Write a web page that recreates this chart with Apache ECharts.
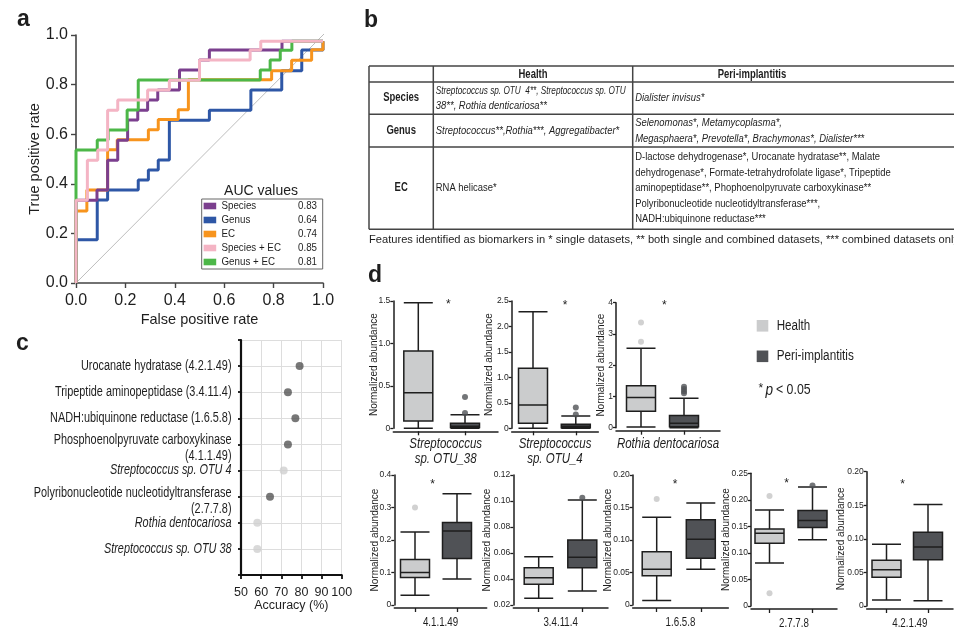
<!DOCTYPE html>
<html><head><meta charset="utf-8">
<script src="https://cdn.jsdelivr.net/npm/echarts@6/dist/echarts.min.js"></script>
<style>html,body{margin:0;padding:0;background:#fff}#c{width:954px;height:628px}</style>
</head><body><div id="c"></div>
<script>
// ================= DATA =================
// Panel a: ROC curves (points after each vertical+horizontal step: [FPR, TPR])
const rocNames = ['Species', 'Genus', 'EC', 'Species + EC', 'Genus + EC'];
const aucValues = ['0.83', '0.64', '0.74', '0.85', '0.81'];
const rocSpecies = [[0,0],[0.085,0.334],[0.128,0.375],[0.169,0.495],[0.209,0.576],[0.25,0.657],[0.29,0.697],[0.331,0.738],[0.419,0.778],[0.5,0.859],[0.54,0.899],[0.834,0.94],[1,0.975]];
const rocGenus = [[0,0],[0.086,0.174],[0.128,0.335],[0.252,0.375],[0.293,0.415],[0.333,0.456],[0.378,0.496],[0.54,0.656],[0.708,0.697],[0.833,0.778],[0.914,0.856],[1,0.94],[1,0.975]];
const rocEC = [[0,0],[0.044,0.29],[0.128,0.375],[0.167,0.537],[0.293,0.578],[0.333,0.618],[0.414,0.659],[0.455,0.699],[0.792,0.82],[0.873,0.856],[0.954,0.898],[1,0.941],[1,0.975]];
const rocSpeciesEC = [[0,0],[0.046,0.334],[0.088,0.495],[0.128,0.536],[0.169,0.697],[0.29,0.738],[0.378,0.778],[0.5,0.818],[0.705,0.899],[0.748,0.94],[1,0.975]];
const rocGenusEC = [[0,0],[0.086,0.536],[0.13,0.577],[0.207,0.617],[0.252,0.698],[0.746,0.819],[0.786,0.859],[0.827,0.899],[0.874,0.939],[1,0.975]];
const rocTicks = [0, 0.2, 0.4, 0.6, 0.8, 1.0];
const refLine = [-0.065, 1.055];

// Panel b: table
const tableCols = ['Health', 'Peri-implantitis'];
const tableRows = ['Species', 'Genus', 'EC'];
const healthCells = [
  ['Streptococcus sp. OTU  4**, Streptococcus sp. OTU', '38**, Rothia denticariosa**'],
  ['Streptococcus**,Rothia***, Aggregatibacter*'],
  ['RNA helicase*']
];
const periCells = [
  ['Dialister invisus*'],
  ['Selenomonas*, Metamycoplasma*,', 'Megasphaera*, Prevotella*, Brachymonas*, Dialister***'],
  ['D-lactose dehydrogenase*, Urocanate hydratase**, Malate',
   'dehydrogenase*, Formate-tetrahydrofolate ligase*, Tripeptide',
   'aminopeptidase**, Phophoenolpyruvate carboxykinase**',
   'Polyribonucleotide nucleotidyltransferase***,',
   'NADH:ubiquinone reductase***']
];
const rowItalic = [true, true, false];
const footnote = 'Features identified as biomarkers in * single datasets, ** both single and combined datasets, *** combined datasets only';

// Panel c: accuracy
const accLabels = ['Urocanate hydratase (4.2.1.49)', 'Tripeptide aminopeptidase (3.4.11.4)', 'NADH:ubiquinone reductase (1.6.5.8)',
  'Phosphoenolpyruvate carboxykinase\n(4.1.1.49)', 'Streptococcus sp. OTU 4', 'Polyribonucleotide nucleotidyltransferase\n(2.7.7.8)',
  'Rothia dentocariosa', 'Streptococcus sp. OTU 38'];
const accValues = [79.1, 73.3, 77.0, 73.3, 71.2, 64.4, 58.1, 58.1];
const accType = ['EC', 'EC', 'EC', 'EC', 'Species', 'EC', 'Species', 'Species'];
const accTicks = [50, 60, 70, 80, 90, 100];

// Panel d: box plots [min, Q1, median, Q3, max]
const dCats = ['Streptococcus\nsp. OTU_38', 'Streptococcus\nsp. OTU_4', 'Rothia dentocariosa', '4.1.1.49', '3.4.11.4', '1.6.5.8', '2.7.7.8', '4.2.1.49'];
const dItalic = [true, true, true, false, false, false, false, false];
const groups = ['Health', 'Peri-implantitis'];
const healthBox = [
  [0, 0.086, 0.42, 0.91, 1.48],
  [0, 0.10, 0.46, 1.18, 2.29],
  [0.02, 0.53, 0.97, 1.34, 2.54],
  [0.03, 0.085, 0.10, 0.14, 0.225],
  [0.0252, 0.0359, 0.041, 0.0487, 0.0572],
  [0.007, 0.045, 0.055, 0.082, 0.135],
  [0.081, 0.118, 0.137, 0.145, 0.181],
  [0.009, 0.043, 0.054, 0.068, 0.092]
];
const periBox = [
  [0, 0.01, 0.025, 0.06, 0.16],
  [0, 0.01, 0.04, 0.08, 0.24],
  [0, 0.03, 0.14, 0.39, 0.94],
  [0.08, 0.143, 0.228, 0.254, 0.342],
  [0.0308, 0.0487, 0.0567, 0.070, 0.1008],
  [0.055, 0.072, 0.101, 0.131, 0.157],
  [0.125, 0.148, 0.161, 0.180, 0.224],
  [0.008, 0.069, 0.088, 0.110, 0.151]
];
const healthOut = [[], [], [2.75, 3.37], [0.30], [], [0.163], [0.024, 0.207], []];
const periOut = [[0.18, 0.37], [0.27, 0.41], [1.10, 1.17, 1.24, 1.31], [], [0.1025], [], [0.227], []];
const dSig = [true, true, true, true, false, true, true, true];
const dYMin = [0, 0, 0, 0, 0.02, 0, 0, 0];
const dYMax = [1.5, 2.5, 4, 0.4, 0.12, 0.20, 0.25, 0.20];
const dYStep = [0.5, 0.5, 1, 0.1, 0.02, 0.05, 0.05, 0.05];
const dYDec = [1, 1, 0, 1, 2, 2, 2, 2];

// ================= STYLE / LAYOUT =================
const SANS = '"Liberation Sans", Arial, Helvetica, sans-serif';
const INK = '#1e1e1e';
const NARROW_X = 0.79;             // horizontal squeeze imitating a condensed face
const rocColors = ['#7b3f8e', '#2e57a6', '#f7941d', '#f4b4c4', '#4cb748'];
const HCOL = '#cbcccd', PCOL = '#505256', HOUT = '#c6c6c6';

// panel d geometry: y-axis x, x-axis right end, box centres, top, zero line, star, y-name gap
const dGeom = [
  {x0: 393.3, x1: 498, c1: 418.3, c2: 465, top: 301, y0: 428.3, star: [448.3, 304.5], ng: 14},
  {x0: 511.7, x1: 598.3, c1: 533, c2: 575.8, top: 301, y0: 428.3, star: [565, 305.5], ng: 17},
  {x0: 616, x1: 720, c1: 641, c2: 684, top: 302.7, y0: 427.7, star: [664.3, 305.5], ng: 9.5},
  {x0: 394.3, x1: 486.7, c1: 415, c2: 457, top: 475, y0: 605, star: [432.7, 485], ng: 14},
  {x0: 513.3, x1: 608, c1: 538.7, c2: 582.3, top: 475, y0: 605, star: null, ng: 21.5},
  {x0: 632.7, x1: 728.3, c1: 656.7, c2: 700.8, top: 475, y0: 605, star: [675, 485], ng: 19},
  {x0: 751, x1: 837, c1: 769.5, c2: 812.5, top: 473.3, y0: 606, star: [786.7, 483.5], ng: 19.5},
  {x0: 866.7, x1: 953, c1: 886.5, c2: 928, top: 471.7, y0: 606, star: [902.7, 485], ng: 20.5}
];

// ================= GRAPHIC HELPERS =================
const G = [];
const mctx = document.createElement('canvas').getContext('2d');
function font(size, it, bold) { return (it ? 'italic ' : '') + (bold ? 'bold ' : '') + size + 'px ' + SANS; }
function T(x, y, text, o) {
  o = o || {};
  const f = font(o.size || 12, o.it, o.bold);
  let sx = o.sx || 1;
  if (o.fitW) { mctx.font = f; sx = o.fitW / mctx.measureText(text).width; }
  G.push({type: 'text', x: x, y: y, rotation: o.rot || 0, scaleX: sx, scaleY: 1, z: 100, silent: true,
    style: {text: text, fill: o.fill || INK, font: f,
      align: o.align || 'left', verticalAlign: 'middle', textAlign: o.align || 'left', textVerticalAlign: 'middle'}});
}
function L(x1, y1, x2, y2, c, w) {
  G.push({type: 'line', z: 90, silent: true, shape: {x1: x1, y1: y1, x2: x2, y2: y2}, style: {stroke: c || '#444', lineWidth: w || 1}});
}
function R(x, y, w, h, fill, stroke, lw) {
  G.push({type: 'rect', z: 95, silent: true, shape: {x: x, y: y, width: w, height: h}, style: {fill: fill || 'none', stroke: stroke || null, lineWidth: lw || 0}});
}

// panel letters
T(17, 20, 'a', {size: 23, bold: true});
T(364, 21, 'b', {size: 23, bold: true});
T(16, 344, 'c', {size: 23, bold: true});
T(368, 276, 'd', {size: 23, bold: true});

// panel a legend table
(function () {
  const x0 = 201.7, x1 = 322.7, y0 = 199, rh = 14, xd = 294;
  T(261, 191, 'AUC values', {size: 14, align: 'center'});
  R(x0, y0, x1 - x0, rh * rocNames.length, '#fff', '#666', 1);
  for (let k = 1; k < rocNames.length; k++) L(x0, y0 + rh * k, x1, y0 + rh * k, '#888', 1);
  L(xd, y0, xd, y0 + rh * rocNames.length, '#666', 1);
  rocNames.forEach(function (n, k) {
    const cy = y0 + rh * k + 7;
    R(203.6, cy - 3.3, 12.6, 6.6, rocColors[k]);
    T(221.5, cy + 0.5, n, {size: 10.5, sx: 0.93});
    T(298, cy + 0.5, aucValues[k], {size: 10.5, sx: 0.93});
  });
})();

// panel b table
(function () {
  const rowsY = [66, 82, 114.3, 147, 229.3];
  const colX = [369, 433.3, 632.7, 960];
  const c = '#444';
  rowsY.forEach(function (y) { L(colX[0], y, colX[3], y, c, 1.5); });
  colX.forEach(function (x) { L(x, rowsY[0], x, rowsY[4], c, 1.5); });
  T((colX[1] + colX[2]) / 2, 74.5, tableCols[0], {size: 12, bold: true, sx: NARROW_X, align: 'center'});
  T(752, 74.5, tableCols[1], {size: 12, bold: true, sx: NARROW_X, align: 'center'});
  const lh = 15.5;
  tableRows.forEach(function (r, i) {
    const cy = (rowsY[i + 1] + rowsY[i + 2]) / 2;
    T((colX[0] + colX[1]) / 2, cy, r, {size: 12, bold: true, sx: NARROW_X, align: 'center'});
    const hc = healthCells[i], pc = periCells[i];
    hc.forEach(function (s, j) {
      const o = {size: 11.5, it: rowItalic[i], sx: 0.82};
      if (i === 0 && j === 0) { delete o.sx; o.fitW = 190; }
      T(colX[1] + 2.5, cy + (j - (hc.length - 1) / 2) * lh, s, o);
    });
    pc.forEach(function (s, j) { T(colX[2] + 2.5, cy + (j - (pc.length - 1) / 2) * lh, s, {size: 11.5, it: rowItalic[i], sx: 0.82}); });
  });
  T(369, 239.5, footnote, {size: 11.5, fitW: 590});
})();

// panel d legend and stars
R(756.7, 320, 11.6, 11.6, HCOL);
T(776.7, 326, groups[0], {size: 14, sx: 0.83});
R(756.7, 350.5, 11.6, 11.6, PCOL);
T(776.7, 356.5, groups[1], {size: 14, sx: 0.84});
T(758.5, 388.5, '*', {size: 12});
T(765.5, 391, 'p', {size: 16, it: true, sx: 0.85});
T(776, 390, '< 0.05', {size: 14, sx: 0.88});
dGeom.forEach(function (g, i) { if (dSig[i] && g.star) T(g.star[0], g.star[1], '*', {size: 12, align: 'center'}); });

// ================= OPTION =================
const grids = [], xAxes = [], yAxes = [], series = [];

// panel a
grids.push({left: 76, top: 35, width: 247, height: 248, containLabel: false, outerBoundsMode: 'none'});
const rocAxisCommon = {
  type: 'value', min: rocTicks[0], max: rocTicks[rocTicks.length - 1], interval: rocTicks[1] - rocTicks[0],
  axisLine: {show: true, lineStyle: {color: '#444', width: 1.6}},
  axisTick: {show: true, length: 5, inside: false, lineStyle: {color: '#444', width: 1.4}},
  splitLine: {show: false},
  nameLocation: 'middle', nameMoveOverlap: false,
  nameTextStyle: {fontSize: 14.5, fontFamily: SANS, color: INK}
};
xAxes.push(Object.assign({}, rocAxisCommon, {gridIndex: 0, name: 'False positive rate', nameGap: 29,
  axisLabel: {fontSize: 16, fontFamily: SANS, color: INK, margin: 10, formatter: function (v) { return v.toFixed(1); }, showMinLabel: true, showMaxLabel: true}}));
yAxes.push(Object.assign({}, rocAxisCommon, {gridIndex: 0, name: 'True positive rate', nameGap: 34,
  axisLabel: {fontSize: 16, fontFamily: SANS, color: INK, margin: 8, formatter: function (v) { return v.toFixed(1); }, showMinLabel: true, showMaxLabel: true}}));
series.push({type: 'line', xAxisIndex: 0, yAxisIndex: 0, data: [[refLine[0], refLine[0]], [refLine[1], refLine[1]]],
  symbol: 'none', clip: false, silent: true, lineStyle: {color: '#bdbdbd', width: 1}, z: 1});
const rocData = [rocSpecies, rocGenus, rocEC, rocSpeciesEC, rocGenusEC];
[1, 2, 0, 4, 3].forEach(function (k, order) {
  series.push({type: 'line', name: rocNames[k], xAxisIndex: 0, yAxisIndex: 0, data: rocData[k], step: 'start',
    symbol: 'none', clip: false, silent: true, lineStyle: {color: rocColors[k], width: 3}, z: 2 + order});
});

// panel c
grids.push({left: 241, top: 340, width: 100.7, height: 235, containLabel: false, outerBoundsMode: 'none'});
xAxes.push({gridIndex: 1, type: 'value', min: accTicks[0], max: accTicks[accTicks.length - 1], interval: accTicks[1] - accTicks[0],
  axisLine: {show: true, lineStyle: {color: '#111', width: 2.2}},
  axisTick: {show: true, length: 4, lineStyle: {color: '#111', width: 1.8}},
  splitLine: {show: true, lineStyle: {color: '#dddddd', width: 1}},
  axisLabel: {fontSize: 12.5, fontFamily: SANS, color: INK, margin: 11, showMinLabel: true, showMaxLabel: true},
  name: 'Accuracy (%)', nameLocation: 'middle', nameGap: 24, nameMoveOverlap: false,
  nameTextStyle: {fontSize: 12.5, fontFamily: SANS, color: INK}});
const accCats = [' '].concat(accLabels, ['  ']);
yAxes.push({gridIndex: 1, type: 'category', data: accCats, inverse: true, boundaryGap: false,
  axisLine: {show: true, lineStyle: {color: '#111', width: 2.2}},
  axisTick: {show: true, length: 3, interval: 0, lineStyle: {color: '#111', width: 1.8}},
  splitLine: {show: true, interval: 0, lineStyle: {color: '#dddddd', width: 1}},
  axisLabel: {show: false}});
series.push({type: 'scatter', xAxisIndex: 1, yAxisIndex: 1, symbolSize: 8, silent: true, z: 5,
  data: accValues.map(function (v, i) { return {value: [v, i + 1], itemStyle: {color: accType[i] === 'EC' ? '#555555' : '#cfcfcf'}}; })});

// panel d
dGeom.forEach(function (g, i) {
  const gi = 2 + i;
  const span = g.c2 - g.c1;
  grids.push({left: g.x0, top: g.top, width: g.x1 - g.x0, height: g.y0 - g.top, containLabel: false, outerBoundsMode: 'none'});
  xAxes.push({gridIndex: gi, type: 'value', min: 1 - (g.c1 - g.x0) / span, max: 2 + (g.x1 - g.c2) / span, offset: 3,
    axisLine: {show: true, onZero: false, lineStyle: {color: INK, width: 1.5}},
    axisTick: {show: true, customValues: [1, 2], length: 4, lineStyle: {color: INK, width: 1.3}},
    axisLabel: {show: false}, splitLine: {show: false}});
  yAxes.push({gridIndex: gi, type: 'value', min: dYMin[i], max: dYMax[i], interval: dYStep[i],
    axisLine: {show: true, lineStyle: {color: INK, width: 1.5}},
    axisTick: {show: true, length: 3, lineStyle: {color: INK, width: 1.3}},
    splitLine: {show: false},
    axisLabel: {fontSize: 8.5, fontFamily: SANS, color: INK, margin: 3, showMinLabel: true, showMaxLabel: true,
      formatter: function (v) { return Math.abs(v) < 1e-9 ? '0' : v.toFixed(dYDec[i]); }},
    name: 'Normalized abundance', nameLocation: 'middle', nameGap: g.ng, nameMoveOverlap: false,
    nameTextStyle: {fontSize: 10, fontFamily: SANS, color: INK}});
  series.push({type: 'boxplot', xAxisIndex: gi, yAxisIndex: gi, boxWidth: [29, 29], silent: true,
    emphasis: {disabled: true},
    itemStyle: {borderColor: INK, borderWidth: 1.5},
    data: [
      {value: [1].concat(healthBox[i]), itemStyle: {color: HCOL}},
      {value: [2].concat(periBox[i]), itemStyle: {color: PCOL}}
    ]});
  series.push({type: 'scatter', xAxisIndex: gi, yAxisIndex: gi, symbolSize: 6, silent: true, z: 4,
    data: healthOut[i].map(function (v) { return {value: [1, v], itemStyle: {color: HOUT}}; })
      .concat(periOut[i].map(function (v) { return {value: [2, v], itemStyle: {color: PCOL}}; }))});
});

const chart = echarts.init(document.getElementById('c'), null, {renderer: 'canvas', width: 954, height: 628});
chart.setOption({
  animation: false,
  backgroundColor: '#ffffff',
  textStyle: {fontFamily: SANS},
  grid: grids, xAxis: xAxes, yAxis: yAxes, series: series
});

// panel c category labels, placed through the category axis scale
accLabels.forEach(function (lab, i) {
  const p = chart.convertToPixel({gridIndex: 1}, [accTicks[0], i + 1]);
  const lines = lab.split('\n');
  const it = accType[i] === 'Species';
  const xr = p[0] - 9.5;
  if (lines.length === 1) {
    T(xr, p[1], lines[0], {size: 14, it: it, sx: 0.777, align: 'right'});
  } else {
    T(xr, p[1] - 4, lines[0], {size: 14, it: it, sx: 0.777, align: 'right'});
    T(xr, p[1] + 12, lines[1], {size: 14, it: it, sx: 0.777, align: 'right'});
  }
});
// panel d category names, centred under each x axis
dCats.forEach(function (name, i) {
  const gi = 2 + i;
  const ax = xAxes[gi];
  const p = chart.convertToPixel({gridIndex: gi}, [(ax.min + ax.max) / 2, dYMin[i]]);
  const lines = name.split('\n');
  if (i < 3) {
    lines.forEach(function (s, j) { T(p[0], p[1] + 16 + j * 15, s, {size: 14, it: dItalic[i], sx: 0.82, align: 'center'}); });
  } else {
    T(p[0], p[1] + 18, name, {size: 12.5, it: dItalic[i], sx: 0.78, align: 'center'});
  }
});
chart.setOption({graphic: {elements: G}});
</script>
</body></html>
